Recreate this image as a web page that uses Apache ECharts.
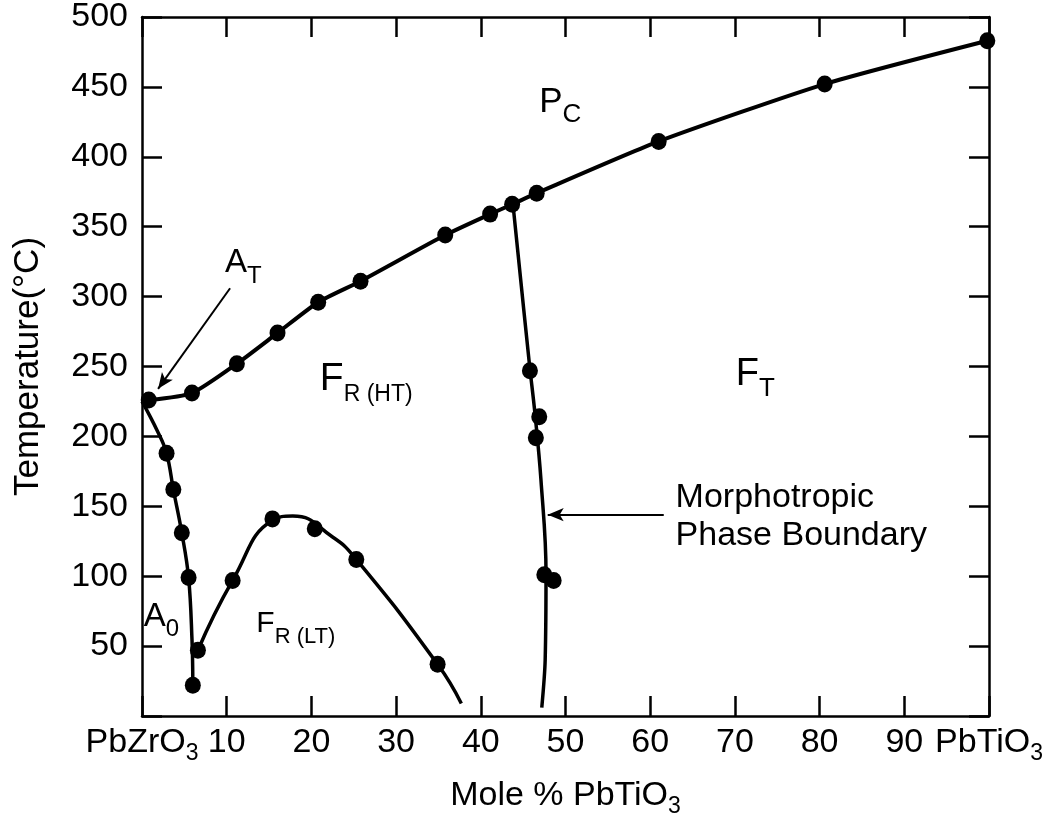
<!DOCTYPE html>
<html>
<head>
<meta charset="utf-8">
<title>PbZrO3 - PbTiO3 phase diagram</title>
<script src="https://cdn.jsdelivr.net/npm/echarts@6/dist/echarts.min.js"></script>
<style>
  html, body { margin: 0; padding: 0; background: #fff; }
  #chart { width: 1048px; height: 816px; }
</style>
</head>
<body>
<div id="chart"></div>
<script>
// measured points, [mole % PbTiO3, temperature in °C]
const curieDots = [[0.8, 226], [5.9, 231], [11.2, 252], [16.0, 274], [20.8, 296], [25.8, 311], [35.8, 344], [41.1, 359], [43.7, 366], [46.6, 374], [61.0, 411], [80.6, 452], [99.8, 483]];
const a0Dots = [[2.9, 188], [3.7, 162], [4.7, 131], [5.5, 99], [6.0, 22]];
const frltDots = [[6.6, 47], [10.7, 97], [15.4, 141], [20.4, 134], [25.3, 112], [34.9, 37]];
const mpbDots = [[45.8, 247], [46.9, 214], [46.5, 199], [47.5, 101], [48.6, 97]];

// hand drawn phase boundaries
const a0Curve = [[0, 225], [1.8, 204], [2.9, 188], [3.7, 162], [4.7, 131], [5.5, 99], [5.9, 55], [6.0, 25]];
const frltCurve = [[6.6, 47], [10.7, 97], [15.4, 140], [17.8, 143], [22.5, 128], [25.3, 112], [34.9, 37], [37.7, 9]];
const mpbCurve = [[43.8, 366], [45.7, 254], [46.4, 216], [47.1, 169], [47.7, 102], [47.6, 40], [47.2, 6]];

// tick labels
const xTicks = [0, 10, 20, 30, 40, 50, 60, 70, 80, 90, 100];
const xEndNames = { 0: 'PbZrO', 100: 'PbTiO' };

// phase labels: main letter, subscript, anchor
const phaseLabels = [
    ['P', 'C', [46.9, 439]],
    ['A', 'T', [9.8, 324]],
    ['F', 'R (HT)', [21.0, 241]],
    ['F', 'T', [70.1, 244]],
    ['A', '0', [0.2, 71]],
    ['F', 'R (LT)', [13.5, 66]]
];
const phaseFonts = [[35, 26], [33, 24], [39, 23], [38, 26], [33, 24], [30, 22]];

// arrows: [tail, tip]
const arrows = [
    [[61.6, 144], [47.9, 144]],
    [[10.4, 306], [1.9, 234]]
];

const FONT = '"Liberation Sans", Arial, sans-serif';

// line height so the subscript sits d px under the main baseline
function subLine (f, s, d) {
    return Math.round(2 * (d + 0.35 * f + 0.15 * s));
}

const tickLH = subLine(34, 23, 7);
const tickRich = {
    m: { fontSize: 34, lineHeight: tickLH, fontFamily: FONT, color: '#000' },
    s: { fontSize: 23, lineHeight: 23, verticalAlign: 'bottom', fontFamily: FONT, color: '#000' }
};

const phaseData = phaseLabels.map(function (p, i) {
    const f = phaseFonts[i][0];
    const s = phaseFonts[i][1];
    return {
        value: p[2],
        label: {
            formatter: '{m|' + p[0] + '}{s|' + p[1] + '}',
            rich: {
                m: { fontSize: f, lineHeight: subLine(f, s, 10), fontFamily: FONT, color: '#000' },
                s: { fontSize: s, lineHeight: s, verticalAlign: 'bottom', fontFamily: FONT, color: '#000' }
            }
        }
    };
});

const chart = echarts.init(document.getElementById('chart'));

const axisLine = { show: true, onZero: false, lineStyle: { color: '#000', width: 2.5 } };
const axisTick = { show: true, inside: true, length: 20, lineStyle: { color: '#000', width: 2.5 } };

const option = {
    backgroundColor: '#fff',
    animation: false,
    grid: { left: 142, top: 17, width: 847, height: 699, containLabel: false, outerBoundsMode: 'none' },
    xAxis: [
        {
            type: 'value',
            min: 0,
            max: 100,
            interval: 10,
            position: 'bottom',
            axisLine: axisLine,
            axisTick: axisTick,
            splitLine: { show: false },
            axisLabel: {
                margin: 4,
                showMinLabel: true,
                showMaxLabel: true,
                formatter: function (v) {
                    if (xEndNames[v] !== undefined) return '{m|' + xEndNames[v] + '}{s|3}';
                    return xTicks.indexOf(v) >= 0 ? '{m|' + v + '}' : '';
                },
                rich: tickRich
            },
            name: '{m|Mole % PbTiO}{s|3}',
            nameLocation: 'middle',
            nameGap: 57,
            nameTextStyle: { rich: tickRich }
        },
        {
            type: 'value',
            min: 0,
            max: 100,
            interval: 10,
            position: 'top',
            axisLine: axisLine,
            axisTick: axisTick,
            axisLabel: { show: false },
            splitLine: { show: false }
        }
    ],
    yAxis: [
        {
            type: 'value',
            min: 0,
            max: 500,
            interval: 50,
            position: 'left',
            axisLine: axisLine,
            axisTick: axisTick,
            splitLine: { show: false },
            axisLabel: {
                margin: 14,
                fontSize: 34,
                fontFamily: FONT,
                color: '#000',
                formatter: function (v) { return v === 0 ? '' : String(v); }
            },
            name: 'Temperature(°C)',
            nameLocation: 'middle',
            nameGap: 96,
            nameRotate: 90,
            nameTextStyle: { fontSize: 35, fontFamily: FONT, color: '#000' }
        },
        {
            type: 'value',
            min: 0,
            max: 500,
            interval: 50,
            position: 'right',
            axisLine: axisLine,
            axisTick: axisTick,
            axisLabel: { show: false },
            splitLine: { show: false }
        }
    ],
    series: [
        {
            name: 'curie',
            type: 'line',
            data: curieDots,
            smooth: 0.2,
            showSymbol: false,
            lineStyle: { color: '#000', width: 4 }
        },
        {
            name: 'a0',
            type: 'line',
            data: a0Curve,
            smooth: 0.4,
            showSymbol: false,
            lineStyle: { color: '#000', width: 3.5 }
        },
        {
            name: 'frlt',
            type: 'line',
            data: frltCurve,
            smooth: 0.5,
            showSymbol: false,
            lineStyle: { color: '#000', width: 3.5 }
        },
        {
            name: 'mpb',
            type: 'line',
            data: mpbCurve,
            smooth: 0.4,
            showSymbol: false,
            lineStyle: { color: '#000', width: 3.5 },
            markLine: {
                silent: true,
                symbol: ['none', 'arrow'],
                symbolSize: [10, 16],
                label: { show: false },
                lineStyle: { color: '#000', width: 2, type: 'solid', opacity: 1 },
                data: arrows.map(function (a) {
                    return [{ coord: a[0] }, { coord: a[1] }];
                })
            }
        },
        {
            name: 'dots',
            type: 'scatter',
            data: [].concat(curieDots, a0Dots, frltDots, mpbDots),
            symbol: 'circle',
            symbolSize: [16, 17],
            clip: false,
            itemStyle: { color: '#000', opacity: 1 }
        },
        {
            name: 'phases',
            type: 'scatter',
            data: phaseData,
            symbolSize: 0,
            silent: true,
            itemStyle: { opacity: 1 },
            label: { show: true, position: 'right', distance: 0 }
        },
        {
            name: 'mpbText',
            type: 'scatter',
            data: [[63.0, 142.5]],
            symbolSize: 0,
            silent: true,
            itemStyle: { opacity: 1 },
            label: {
                show: true,
                position: 'right',
                distance: 0,
                formatter: 'Morphotropic\nPhase Boundary',
                fontSize: 34,
                lineHeight: 38,
                fontFamily: FONT,
                color: '#000'
            }
        }
    ]
};

chart.setOption(option);
</script>
</body>
</html>
